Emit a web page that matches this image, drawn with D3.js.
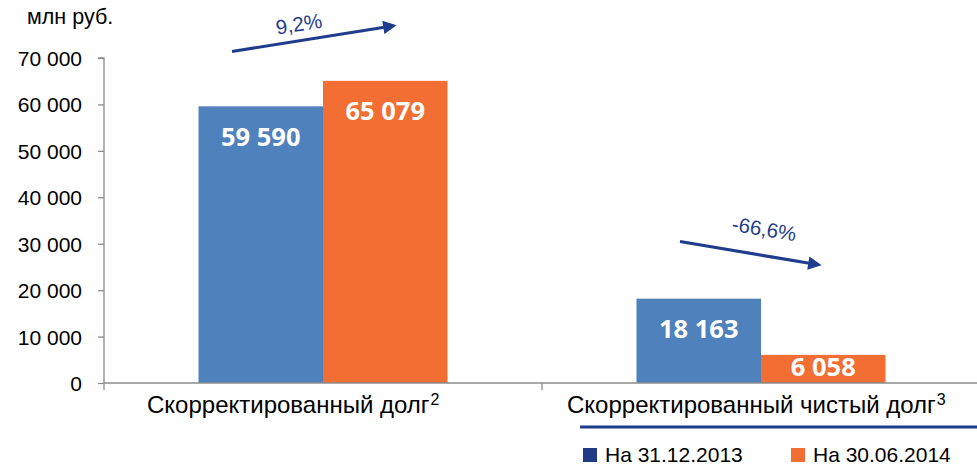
<!DOCTYPE html>
<html><head><meta charset="utf-8">
<script src="https://cdn.jsdelivr.net/npm/d3@7"></script>
<style>body{margin:0;background:#fff}svg{display:block}</style>
</head><body>
<svg id="c" width="977" height="465"></svg>
<script>
const categories = ["Скорректированный долг", "Скорректированный чистый долг"];
const categorySup = ["2", "3"];
const seriesNames = ["На 31.12.2013", "На 30.06.2014"];
const values2013 = [59590, 18163];
const values2014 = [65079, 6058];
const changes = ["9,2%", "-66,6%"];
const yTicks = [0, 10000, 20000, 30000, 40000, 50000, 60000, 70000];
const unitLabel = "млн руб.";

const barColors = ["#4f81bd", "#f26e33"];
const legendColors = ["#1f3a86", "#f26e33"];
const navy = "#1f3d8c";
const svg = d3.select("#c");
const W = 977, H = 465;
const x0 = d3.scaleBand().domain(categories).range([104, 980]).paddingInner(0).paddingOuter(0);
const x1 = d3.scaleBand().domain(seriesNames).range([0, x0.bandwidth()]).paddingInner(0).paddingOuter(0.759);
const y = d3.scaleLinear().domain([0, 70000]).range([383, 58]);
const fmt = v => d3.format(",")(v).replace(/,/g, " ");

// y axis
const ya = svg.append("g").attr("transform", "translate(104,0)")
  .call(d3.axisLeft(y).tickValues(yTicks).tickSize(6).tickPadding(16).tickFormat(fmt));
ya.select(".domain").attr("stroke", "#8c8c8c").attr("stroke-width", 1.3).attr("d", "M-6,58H0V383");
ya.selectAll(".tick line").attr("stroke", "#8c8c8c").attr("stroke-width", 1.3);
ya.selectAll(".tick text").attr("font-family", "Liberation Sans, Arial, sans-serif").attr("font-size", 21).attr("fill", "#000").attr("dy", "0.36em");

svg.append("text").attr("x", 27).attr("y", 24).text(unitLabel)
  .attr("font-family", "Liberation Sans, Arial, sans-serif").attr("font-size", 21.5).attr("fill", "#000");

// bars
const rows = categories.map((c, i) => ({cat: c, vals: [values2013[i], values2014[i]]}));
const g = svg.selectAll("g.cat").data(rows).join("g").attr("class", "cat")
  .attr("transform", d => `translate(${x0(d.cat)},0)`);
g.selectAll("rect").data(d => d.vals.map((v, j) => ({v, s: seriesNames[j], j})))
  .join("rect")
  .attr("x", d => x1(d.s)).attr("width", x1.bandwidth())
  .attr("y", d => y(d.v)).attr("height", d => y(0) - y(d.v))
  .attr("fill", d => barColors[d.j]);
g.selectAll("text.val").data(d => d.vals.map((v, j) => ({v, s: seriesNames[j], j})))
  .join("text").attr("class", "val")
  .attr("x", d => x1(d.s) + x1.bandwidth() / 2)
  .attr("y", d => Math.min(y(d.v) + 39.5, y(0) - 7.5))
  .attr("text-anchor", "middle").attr("fill", "#fff")
  .attr("font-family", "Open Sans, sans-serif").attr("font-weight", "bold").attr("font-size", 25.5)
  .text(d => fmt(d.v));

// x baseline
svg.append("line").attr("x1", 104).attr("x2", W).attr("y1", 383).attr("y2", 383)
  .attr("stroke", "#8c8c8c").attr("stroke-width", 1.3);
[104, x0(categories[1]), 980].forEach(xx => {
  svg.append("line").attr("x1", xx).attr("x2", xx).attr("y1", 383).attr("y2", 390)
    .attr("stroke", "#8c8c8c").attr("stroke-width", 1.3);
});

// category labels
const labelStart = [147, 567];
categories.forEach((c, i) => {
  const t = svg.append("text").attr("x", labelStart[i]).attr("y", 413)
    .attr("text-anchor", "start").attr("font-family", "Liberation Sans, Arial, sans-serif")
    .attr("font-size", 24).attr("fill", "#000");
  t.append("tspan").text(c);
  t.append("tspan").attr("font-size", 16).attr("dy", -8).attr("dx", 1).text(categorySup[i]);
});

// navy rule under second label
svg.append("line").attr("x1", 580).attr("x2", W).attr("y1", 427).attr("y2", 427)
  .attr("stroke", navy).attr("stroke-width", 3);

// legend
const legX = [583, 791];
seriesNames.forEach((s, i) => {
  svg.append("rect").attr("x", legX[i]).attr("y", 448).attr("width", 14).attr("height", 14).attr("fill", legendColors[i]);
  svg.append("text").attr("x", legX[i] + 22).attr("y", 462).text(s)
    .attr("font-family", "Liberation Sans, Arial, sans-serif").attr("font-size", 21).attr("fill", "#000");
});

// arrows
svg.append("defs").append("marker").attr("id", "ah").attr("viewBox", "0 0 10 10")
  .attr("refX", 2).attr("refY", 5).attr("markerWidth", 5).attr("markerHeight", 4.2).attr("orient", "auto")
  .attr("markerUnits", "strokeWidth")
  .append("path").attr("d", "M0,0L10,5L0,10Z").attr("fill", navy);
const arrows = [
  {x1: 232, y1: 51.5, x2: 386, y2: 27, lx: 300, ly: 31, ang: -9},
  {x1: 680, y1: 241.5, x2: 811, y2: 263.5, lx: 763, ly: 236, ang: 9.5}
];
arrows.forEach((a, i) => {
  svg.append("line").attr("x1", a.x1).attr("y1", a.y1).attr("x2", a.x2).attr("y2", a.y2)
    .attr("stroke", navy).attr("stroke-width", 3.2).attr("marker-end", "url(#ah)");
  svg.append("text").attr("transform", `translate(${a.lx},${a.ly}) rotate(${a.ang})`)
    .attr("text-anchor", "middle").attr("font-family", "Liberation Sans, Arial, sans-serif")
    .attr("font-size", 20.5).attr("fill", navy).text(changes[i]);
});
</script>
</body></html>
